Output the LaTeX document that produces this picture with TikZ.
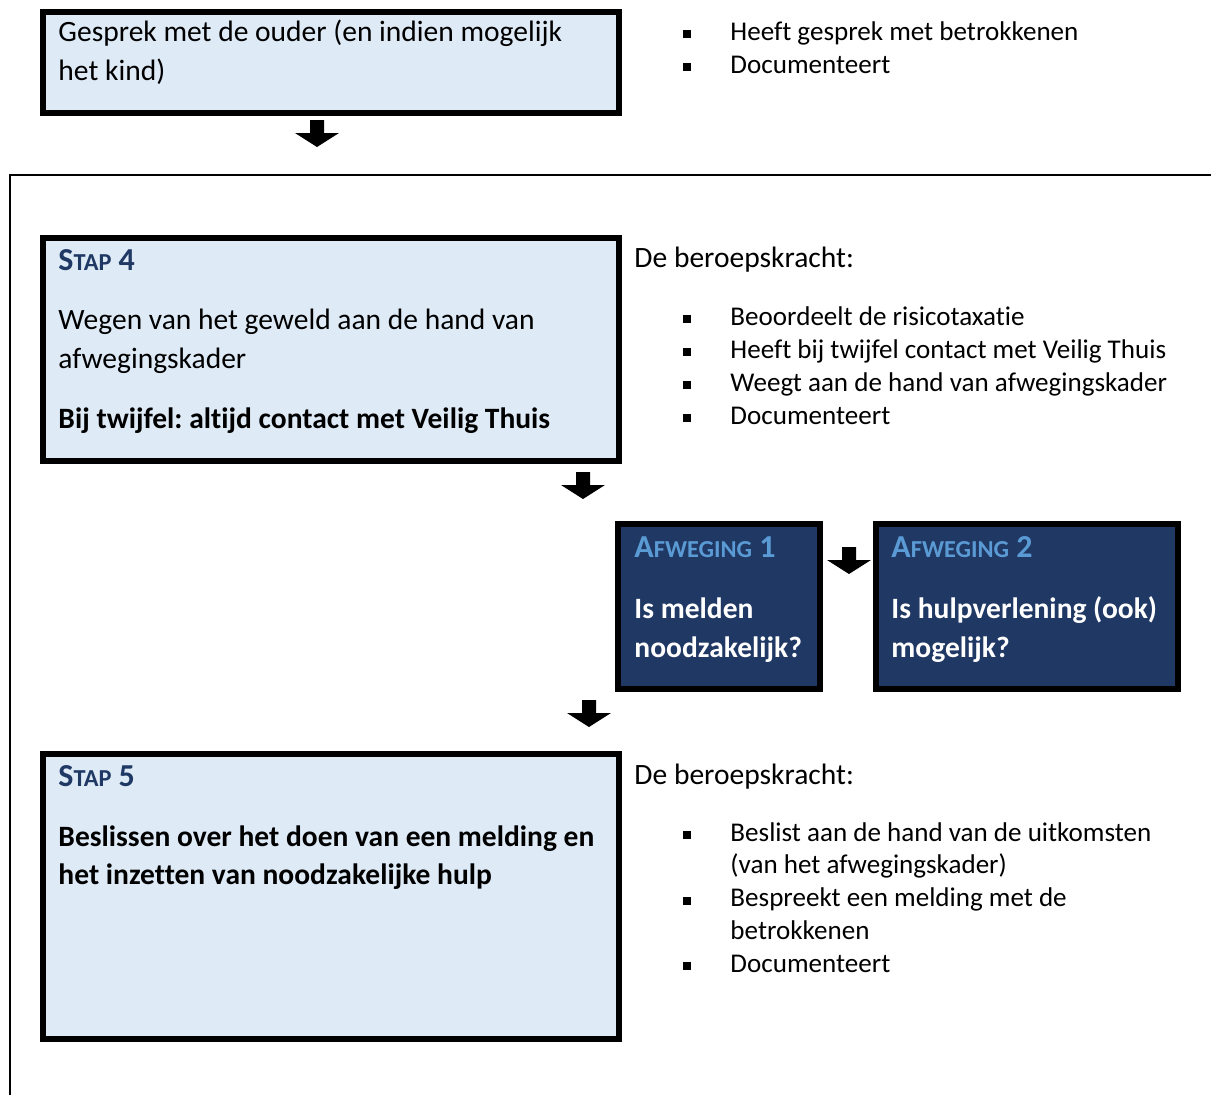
\documentclass[tikz,border=0pt]{standalone}
\usepackage{fontspec}
\setmainfont{Carlito}[Ligatures=NoCommon]
\usetikzlibrary{fit,positioning}
\frenchspacing

\definecolor{lichtblauw}{HTML}{DEEAF6}
\definecolor{donkerblauw}{HTML}{203864}
\definecolor{kopblauw}{HTML}{1F3864}
\definecolor{helderblauw}{HTML}{5B9BD5}

% kop in kleinkapitaal: eerste letter groot, rest klein
\newcommand{\kleinkap}[3]{#1{\fontsize{9.9}{10}\selectfont #2}#3}

\tikzset{
  kader/.style={draw=black, line width=2.6pt, fill=lichtblauw, inner sep=0pt},
  donkerkader/.style={kader, fill=donkerblauw},
  tekst/.style={anchor=base west, inner sep=0pt, align=left, font=\fontsize{12}{15.45}\selectfont},
  vet/.style={tekst, font=\fontsize{12}{15.45}\selectfont\bfseries},
  lijst/.style={tekst, font=\fontsize{11}{13.4}\selectfont},
  kop/.style={anchor=base west, inner sep=0pt, font=\fontsize{13}{15}\selectfont\bfseries, text=kopblauw},
  pics/pijl/.style={code={\fill (-7,0) -- (7,0) -- (7,13) -- (22,13) -- (0,27) -- (-22,13) -- (-7,13) -- cycle;}},
}

\begin{document}
\begin{tikzpicture}[x=0.4065pt, y=-0.4065pt]
  \useasboundingbox (0,0) rectangle (1211,1095);

  % gesprek (base = laatste regel)
  \node[kader, fit={(43,12) (619,113)}] (gesprek) {};
  \node[tekst] (gesprektekst) at (58,80) {Gesprek met de ouder (en indien mogelijk\\het kind)};
  \node[lijst] (gespreklijst) at (730,73) {Heeft gesprek met betrokkenen\\Documenteert};
  \foreach \y in {40,73}
    \fill (683,\y-2) rectangle +(8,-8);
  \pic at (317,120) {pijl};

  % kader om stap 4 en 5
  \draw[line width=1.2pt] (1211,175) -- (10,175) -- (10,1095);

  % stap 4
  \node[kader, fit={(43,238) (619,461)}] (stap4) {};
  \node[kop] (kop4) at (58,270) {\kleinkap{S}{TAP}{ 4}};
  \node[tekst] (wegen) at (58,368) {Wegen van het geweld aan de hand van\\afwegingskader};
  \node[vet] (twijfel) at (58,428) {Bij twijfel: altijd contact met Veilig Thuis};
  \node[tekst] (beroep4) at (634,267) {De beroepskracht:};
  \node[lijst] (lijst4) at (730,424) {Beoordeelt de risicotaxatie\\Heeft bij twijfel contact met Veilig Thuis\\Weegt aan de hand van afwegingskader\\Documenteert};
  \foreach \y in {325,358,391,424}
    \fill (683,\y-2) rectangle +(8,-8);
  \pic at (583,472) {pijl};

  % afwegingen
  \node[donkerkader, fit={(618,524) (820,689)}] (afweging1) {};
  \node[kop, text=helderblauw] (kopaf1) at (634,557) {\kleinkap{A}{FWEGING}{ 1}};
  \node[vet, text=white] (vraag1) at (634,657) {Is melden\\noodzakelijk?};
  \pic at (849,547) {pijl};
  \node[donkerkader, fit={(876,524) (1178,689)}] (afweging2) {};
  \node[kop, text=helderblauw] (kopaf2) at (891,557) {\kleinkap{A}{FWEGING}{ 2}};
  \node[vet, text=white] (vraag2) at (891,657) {Is hulpverlening (ook)\\mogelijk?};
  \pic at (589,700) {pijl};

  % stap 5
  \node[kader, fit={(43,754) (619,1039)}] (stap5) {};
  \node[kop] (kop5) at (58,786) {\kleinkap{S}{TAP}{ 5}};
  \node[vet] (beslissen) at (58,884) {Beslissen over het doen van een melding en\\het inzetten van noodzakelijke hulp};
  \node[tekst] (beroep5) at (634,784) {De beroepskracht:};
  \node[lijst, font=\fontsize{11}{13.3}\selectfont] (lijst5) at (730,972) {Beslist aan de hand van de uitkomsten\\(van het afwegingskader)\\Bespreekt een melding met de\\betrokkenen\\Documenteert};
  \foreach \y in {841,907,972}
    \fill (683,\y-2) rectangle +(8,-8);
\end{tikzpicture}
\end{document}
